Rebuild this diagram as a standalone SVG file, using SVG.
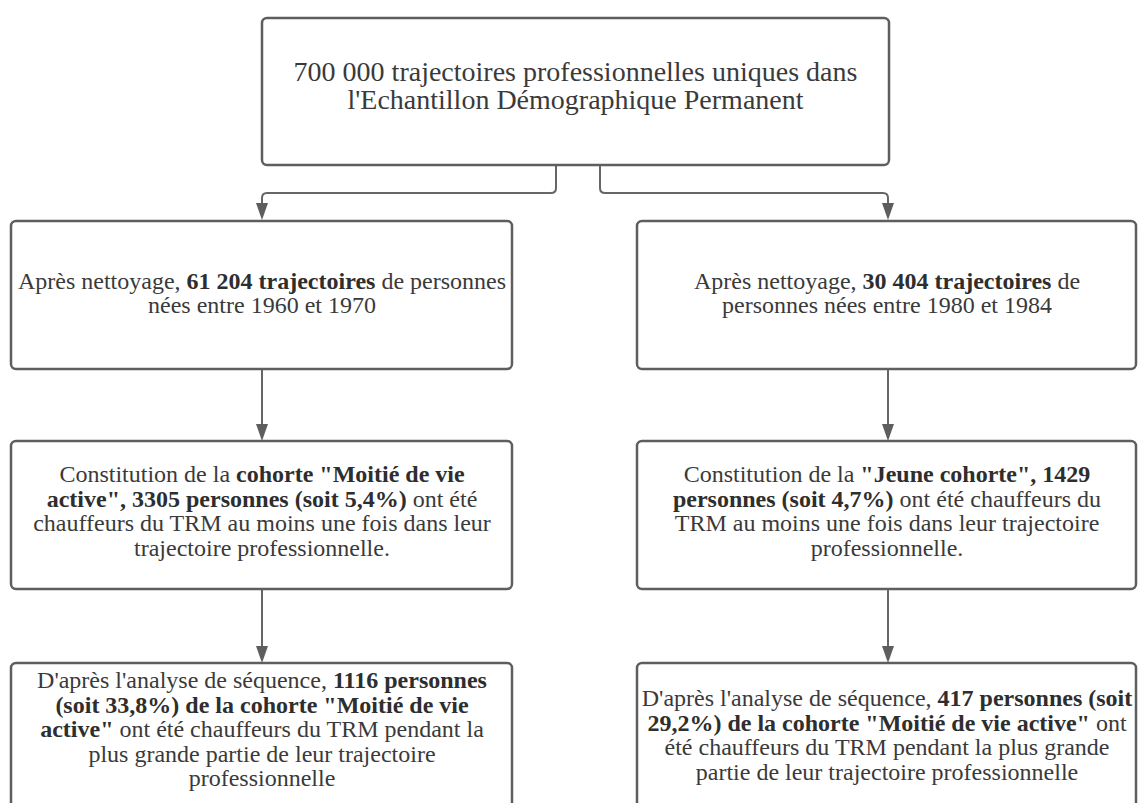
<svg xmlns="http://www.w3.org/2000/svg" width="1138" height="803" viewBox="0 0 1138 803">
<style>
.box{fill:#ffffff;stroke:#5e5e5e;stroke-width:2.5}
.t{font-family:'Liberation Serif','DejaVu Serif',serif;font-size:24px;fill:#3a3a3a;text-anchor:middle}
.big{font-size:28px}
.b{font-weight:bold;fill:#2e2e2e}
.conn{fill:none;stroke:#666666;stroke-width:2}
.ah{fill:#5e5e5e}
</style>
<rect width="1138" height="803" fill="#ffffff"/>
<g id="connectors">
<path class="conn" d="M556,165 V188 Q556,193 551,193 H267 Q262,193 262,198 V203" />
<path d="M256,203 L268,203 L262,220 Z" class="ah"/>
<path class="conn" d="M600,165 V188 Q600,193 605,193 H883 Q888,193 888,198 V203" />
<path d="M882,203 L894,203 L888,220 Z" class="ah"/>
<path class="conn" d="M262,369 V424"/>
<path d="M256,424 L268,424 L262,441 Z" class="ah"/>
<path class="conn" d="M262,589 V646"/>
<path d="M256,646 L268,646 L262,663 Z" class="ah"/>
<path class="conn" d="M888,369 V424"/>
<path d="M882,424 L894,424 L888,441 Z" class="ah"/>
<path class="conn" d="M888,589 V646"/>
<path d="M882,646 L894,646 L888,663 Z" class="ah"/>
</g>
<g id="node-top">
<rect class="box" x="262" y="18" width="627" height="147" rx="5"/>
<text class="t big" x="575.5" y="81">700 000 trajectoires professionnelles uniques dans</text>
<text class="t big" x="575.5" y="109">l'Echantillon Démographique Permanent</text>
</g>
<g id="node-left-1">
<rect class="box" x="11" y="221" width="501" height="148" rx="5"/>
<text class="t" x="262" y="289">Après nettoyage, <tspan class="b">61 204 trajectoires</tspan> de personnes</text>
<text class="t" x="262" y="313">nées entre 1960 et 1970</text>
</g>
<g id="node-right-1">
<rect class="box" x="637" y="221" width="499" height="148" rx="5"/>
<text class="t" x="887" y="289">Après nettoyage, <tspan class="b">30 404 trajectoires</tspan> de</text>
<text class="t" x="887" y="313">personnes nées entre 1980 et 1984</text>
</g>
<g id="node-left-2">
<rect class="box" x="11" y="441" width="501" height="148" rx="5"/>
<text class="t" x="262" y="482">Constitution de la <tspan class="b">cohorte "Moitié de vie</tspan></text>
<text class="t" x="262" y="506.5"><tspan class="b">active", 3305 personnes (soit 5,4%)</tspan> ont été</text>
<text class="t" x="262" y="531">chauffeurs du TRM au moins une fois dans leur</text>
<text class="t" x="262" y="555.5">trajectoire professionnelle.</text>
</g>
<g id="node-right-2">
<rect class="box" x="637" y="441" width="499" height="148" rx="5"/>
<text class="t" x="887" y="482">Constitution de la <tspan class="b">"Jeune cohorte", 1429</tspan></text>
<text class="t" x="887" y="506.5"><tspan class="b">personnes (soit 4,7%)</tspan> ont été chauffeurs du</text>
<text class="t" x="887" y="531">TRM au moins une fois dans leur trajectoire</text>
<text class="t" x="887" y="555.5">professionnelle.</text>
</g>
<g id="node-left-3">
<rect class="box" x="11" y="663" width="501" height="148" rx="5"/>
<text class="t" x="262" y="688">D'après l'analyse de séquence, <tspan class="b">1116 personnes</tspan></text>
<text class="t" x="262" y="712.5"><tspan class="b">(soit 33,8%) de la cohorte "Moitié de vie</tspan></text>
<text class="t" x="262" y="737"><tspan class="b">active"</tspan> ont été chauffeurs du TRM pendant la</text>
<text class="t" x="262" y="761.5">plus grande partie de leur trajectoire</text>
<text class="t" x="262" y="786">professionnelle</text>
</g>
<g id="node-right-3">
<rect class="box" x="637" y="663" width="499" height="148" rx="5"/>
<text class="t" x="887" y="706">D'après l'analyse de séquence, <tspan class="b">417 personnes (soit</tspan></text>
<text class="t" x="887" y="730.5"><tspan class="b">29,2%) de la cohorte "Moitié de vie active"</tspan> ont</text>
<text class="t" x="887" y="755">été chauffeurs du TRM pendant la plus grande</text>
<text class="t" x="887" y="779.5">partie de leur trajectoire professionnelle</text>
</g>
</svg>
